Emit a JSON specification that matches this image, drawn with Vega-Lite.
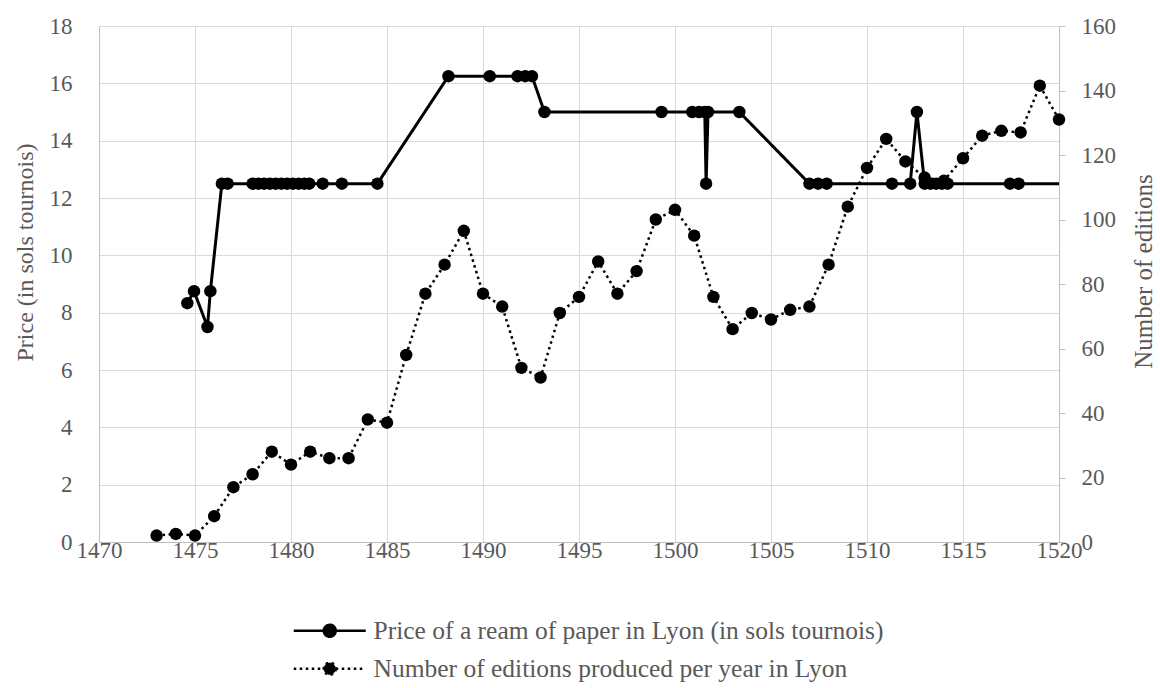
{
  "$schema": "https://vega.github.io/schema/vega-lite/v6.json",
  "width": 960,
  "height": 516,
  "autosize": {"type": "none"},
  "padding": {"left": 99, "top": 26, "right": 101, "bottom": 146},
  "background": "white",
  "config": {
    "view": {"stroke": null},
    "font": "Liberation Serif, Times New Roman, serif",
    "axis": {
      "labelFont": "Liberation Serif, Times New Roman, serif",
      "labelFontSize": 23,
      "labelColor": "#595959",
      "titleFont": "Liberation Serif, Times New Roman, serif",
      "titleFontSize": 24,
      "titleColor": "#595959",
      "titleFontWeight": "normal",
      "gridColor": "#d9d9d9",
      "gridWidth": 1,
      "domainColor": "#bfbfbf",
      "tickColor": "#bfbfbf"
    }
  },
  "datasets": {
    "price": [
      {"year": 1474.6, "price": 8.33},
      {"year": 1474.95, "price": 8.75},
      {"year": 1475.65, "price": 7.5},
      {"year": 1475.8, "price": 8.75},
      {"year": 1476.4, "price": 12.5},
      {"year": 1476.7, "price": 12.5},
      {"year": 1478.0, "price": 12.5},
      {"year": 1478.3, "price": 12.5},
      {"year": 1478.6, "price": 12.5},
      {"year": 1478.9, "price": 12.5},
      {"year": 1479.2, "price": 12.5},
      {"year": 1479.5, "price": 12.5},
      {"year": 1479.8, "price": 12.5},
      {"year": 1480.1, "price": 12.5},
      {"year": 1480.4, "price": 12.5},
      {"year": 1480.7, "price": 12.5},
      {"year": 1480.95, "price": 12.5},
      {"year": 1481.65, "price": 12.5},
      {"year": 1482.65, "price": 12.5},
      {"year": 1484.5, "price": 12.5},
      {"year": 1488.2, "price": 16.25},
      {"year": 1490.35, "price": 16.25},
      {"year": 1491.8, "price": 16.25},
      {"year": 1492.2, "price": 16.25},
      {"year": 1492.55, "price": 16.25},
      {"year": 1493.2, "price": 15},
      {"year": 1499.3, "price": 15},
      {"year": 1500.9, "price": 15},
      {"year": 1501.25, "price": 15},
      {"year": 1501.55, "price": 15},
      {"year": 1501.62, "price": 12.5},
      {"year": 1501.72, "price": 15},
      {"year": 1503.35, "price": 15},
      {"year": 1507.0, "price": 12.5},
      {"year": 1507.45, "price": 12.5},
      {"year": 1507.9, "price": 12.5},
      {"year": 1511.3, "price": 12.5},
      {"year": 1512.25, "price": 12.5},
      {"year": 1512.6, "price": 15},
      {"year": 1513.0, "price": 12.5},
      {"year": 1513.3, "price": 12.5},
      {"year": 1513.6, "price": 12.5},
      {"year": 1513.9, "price": 12.5},
      {"year": 1514.2, "price": 12.5},
      {"year": 1517.45, "price": 12.5},
      {"year": 1517.9, "price": 12.5},
      {"year": 1520, "price": 12.5}
    ],
    "editions": [
      {"year": 1473, "editions": 2},
      {"year": 1474, "editions": 2.5},
      {"year": 1475, "editions": 2},
      {"year": 1476, "editions": 8},
      {"year": 1477, "editions": 17},
      {"year": 1478, "editions": 21},
      {"year": 1479, "editions": 28},
      {"year": 1480, "editions": 24},
      {"year": 1481, "editions": 28},
      {"year": 1482, "editions": 26},
      {"year": 1483, "editions": 26},
      {"year": 1484, "editions": 38},
      {"year": 1485, "editions": 37},
      {"year": 1486, "editions": 58},
      {"year": 1487, "editions": 77},
      {"year": 1488, "editions": 86},
      {"year": 1489, "editions": 96.5},
      {"year": 1490, "editions": 77},
      {"year": 1491, "editions": 73},
      {"year": 1492, "editions": 54},
      {"year": 1493, "editions": 51},
      {"year": 1494, "editions": 71},
      {"year": 1495, "editions": 76},
      {"year": 1496, "editions": 87},
      {"year": 1497, "editions": 77},
      {"year": 1498, "editions": 84},
      {"year": 1499, "editions": 100},
      {"year": 1500, "editions": 103},
      {"year": 1501, "editions": 95},
      {"year": 1502, "editions": 76},
      {"year": 1503, "editions": 66},
      {"year": 1504, "editions": 71},
      {"year": 1505, "editions": 69},
      {"year": 1506, "editions": 72},
      {"year": 1507, "editions": 73},
      {"year": 1508, "editions": 86},
      {"year": 1509, "editions": 104},
      {"year": 1510, "editions": 116},
      {"year": 1511, "editions": 125},
      {"year": 1512, "editions": 118},
      {"year": 1513, "editions": 113},
      {"year": 1514, "editions": 112},
      {"year": 1515, "editions": 119},
      {"year": 1516, "editions": 126},
      {"year": 1517, "editions": 127.5},
      {"year": 1518, "editions": 127},
      {"year": 1519, "editions": 141.5},
      {"year": 1520, "editions": 131}
    ]
  },
  "layer": [
    {
      "data": {"name": "price"},
      "layer": [
        {
          "mark": {"type": "line", "color": "black", "strokeWidth": 3},
          "encoding": {
            "x": {
              "field": "year", "type": "quantitative",
              "scale": {"domain": [1470, 1520], "nice": false, "zero": false},
              "axis": {
                "title": null, "values": [1470, 1475, 1480, 1485, 1490, 1495, 1500, 1505, 1510, 1515, 1520],
                "format": "d", "grid": true, "ticks": false, "tickSize": 0, "labelPadding": -3, "labelFlush": false
              }
            },
            "y": {
              "field": "price", "type": "quantitative",
              "scale": {"domain": [0, 18], "nice": false},
              "axis": {
                "title": "Price (in sols tournois)", "values": [0, 2, 4, 6, 8, 10, 12, 14, 16, 18],
                "grid": true, "ticks": false, "tickSize": 0, "labelPadding": 27,
                "titleX": -74, "titleY": 226, "titleAngle": -90, "titleAlign": "center", "titleBaseline": "middle"
              }
            },
            "strokeDash": {
              "datum": "Price of a ream of paper in Lyon (in sols tournois)",
              "type": "nominal",
              "scale": {
                "domain": ["Price of a ream of paper in Lyon (in sols tournois)", "Number of editions produced per year in Lyon"],
                "range": [[1, 0], [2.5, 3.5]]
              },
              "legend": {
                "title": null,
                "orient": "none",
                "legendX": 218,
                "legendY": 592,
                "direction": "vertical",
                "symbolType": "M -4.5 0 L 4.5 0 M 0.75 0 A 0.75 0.75 0 1 1 -0.75 0 A 0.75 0.75 0 1 1 0.75 0 Z",
                "symbolSize": 256,
                "symbolStrokeWidth": 2.5,
                "symbolStrokeColor": "black",
                "symbolFillColor": "black",
                "symbolOpacity": 1,
                "labelFont": "Liberation Serif, Times New Roman, serif",
                "labelFontSize": 25.5,
                "labelColor": "#595959",
                "labelOffset": 31,
                "rowPadding": 11,
                "labelLimit": 0,
                "encode": {"symbols": {"update": {"fill": {"value": "black"}, "stroke": {"value": "black"}, "opacity": {"value": 1}}}}
              }
            }
          }
        },
        {
          "transform": [{"filter": "datum.year < 1519.9"}],
          "mark": {"type": "circle", "color": "black", "size": 155, "opacity": 1},
          "encoding": {
            "x": {"field": "year", "type": "quantitative"},
            "y": {"field": "price", "type": "quantitative"}
          }
        }
      ]
    },
    {
      "data": {"name": "editions"},
      "layer": [
        {
          "mark": {"type": "line", "color": "black", "strokeWidth": 2.5},
          "encoding": {
            "x": {"field": "year", "type": "quantitative"},
            "y": {
              "field": "editions", "type": "quantitative",
              "scale": {"domain": [0, 160], "nice": false},
              "axis": {
                "orient": "right", "title": "Number of editions",
                "values": [0, 20, 40, 60, 80, 100, 120, 140, 160],
                "grid": false, "ticks": true, "tickSize": 6, "labelPadding": 16,
                "titleFontSize": 25,
                "titleX": 84, "titleY": 245, "titleAngle": -90, "titleAlign": "center", "titleBaseline": "middle"
              }
            },
            "strokeDash": {"datum": "Number of editions produced per year in Lyon", "type": "nominal"}
          }
        },
        {
          "mark": {"type": "circle", "color": "black", "size": 155, "opacity": 1},
          "encoding": {
            "x": {"field": "year", "type": "quantitative"},
            "y": {"field": "editions", "type": "quantitative"}
          }
        }
      ]
    }
  ],
  "resolve": {"scale": {"y": "independent"}}
}
